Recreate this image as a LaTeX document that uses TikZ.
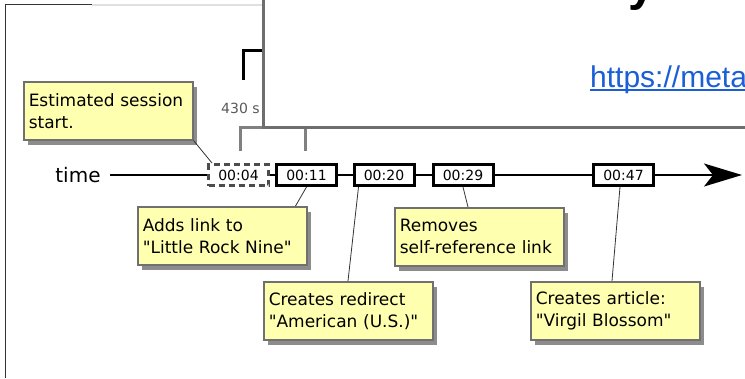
\documentclass[tikz,border=0pt]{standalone}
\usepackage{fontspec}
\setmainfont{DejaVu Sans}
\newfontfamily\urlfont{Liberation Sans}
\usetikzlibrary{arrows.meta,shadows}
\definecolor{noteyellow}{HTML}{FFFFB0}
\definecolor{notegray}{HTML}{707070}
\definecolor{overgray}{HTML}{6E6E6E}
\definecolor{linkblue}{HTML}{1A5FD6}
\newcommand{\dq}{\textquotedbl}
\tikzset{
  callout/.style={draw=notegray, fill=noteyellow, line width=1.5pt,
    drop shadow={shadow xshift=4pt, shadow yshift=-5pt, fill=black!75, opacity=0.6},
    anchor=north west, minimum width=169pt, minimum height=58pt,
    text width=159pt, inner sep=5pt, align=left,
    font=\fontsize{17}{22}\selectfont},
  stamp/.style={draw=black, fill=white, line width=3pt, minimum width=60pt,
    minimum height=21pt, inner sep=0pt, font=\fontsize{14}{16}\selectfont},
  stampdash/.style={stamp, draw=black!70, dash pattern=on 6pt off 4pt},
  leader/.style={draw=black!80, line width=0.8pt},
  axis/.style={draw=black, line width=1.5pt},
}
\begin{document}
\begin{tikzpicture}[x=1pt, y=-1pt]
\useasboundingbox (0,0) rectangle (745,378);
\clip (0,0) rectangle (745,378);
% frame lines of the page behind
\draw[black!80, line width=1.2pt] (5.5,378) -- (5.5,4.5) -- (92,4.5);
\draw[black!12, line width=1.2pt] (92,5) -- (263,5);
% brackets
\draw[black, line width=3pt] (243.5,80) -- (243.5,50) -- (266,50);
\draw[black!50, line width=3pt] (240.7,151) -- (240.7,127.5) -- (305.7,127.5) -- (305.7,151);
\node[anchor=base west, text=black!65, font=\fontsize{14}{16}\selectfont, inner sep=0pt] (dur) at (221,113) {430 s};
% overlay window
\draw[overgray, fill=white, line width=3pt] (263,-5) rectangle (752,127.8);
\node[anchor=base west, inner sep=0pt, font=\urlfont\bfseries\fontsize{48}{50}\selectfont] (ttl) at (628,0) {y};
\node[anchor=base west, inner sep=0pt, text=linkblue, font=\urlfont\fontsize{30}{32}\selectfont] (url) at (590,87) {https://meta};
\draw[linkblue, line width=2pt] ([yshift=-2.5pt]url.base west) -- ++(170,0);
% timeline
\node[font=\fontsize{20}{22}\selectfont, inner sep=0pt] (time) at (78,175) {time};
\node[stampdash] (t04) at (238.5,175) {00:04};
\node[stamp] (t11) at (306.5,175) {00:11};
\node[stamp] (t20) at (384,175) {00:20};
\node[stamp] (t29) at (463,175) {00:29};
\node[stamp] (t47) at (623.5,175) {00:47};
\coordinate (tstart) at (110,175);
\coordinate (tend) at (742,175);
\draw[axis] (tstart) -- (t04.west);
\draw[axis] (t04.east) -- (t11.west);
\draw[axis] (t11.east) -- (t20.west);
\draw[axis] (t20.east) -- (t29.west);
\draw[axis] (t29.east) -- (t47.west);
\draw[axis, -{Stealth[length=38pt, width=23pt, inset=9pt]}] (t47.east) -- (tend);
% callouts
\node[callout] (c1) at (23,81) {Estimated session\\start.};
\node[callout] (c2) at (137,206) {Adds link to\\\dq Little Rock Nine\dq};
\node[callout] (c3) at (263,281) {Creates redirect\\\dq American (U.S.)\dq};
\node[callout] (c4) at (394,207) {Removes\\self-reference link};
\node[callout] (c5) at (530,281) {Creates article:\\\dq Virgil Blossom\dq};
% leaders
\draw[leader] (c1.south east) -- ([xshift=5pt]t04.north west);
\draw[leader] ([xshift=-12pt]c2.north east) -- (t11.south);
\draw[leader] ([xshift=85pt]c3.north west) -- ([xshift=6pt]t20.south west);
\draw[leader] ([xshift=74pt]c4.north west) -- (t29.south);
\draw[leader] ([xshift=82pt]c5.north west) -- ([xshift=-3.5pt]t47.south);
\end{tikzpicture}
\end{document}
